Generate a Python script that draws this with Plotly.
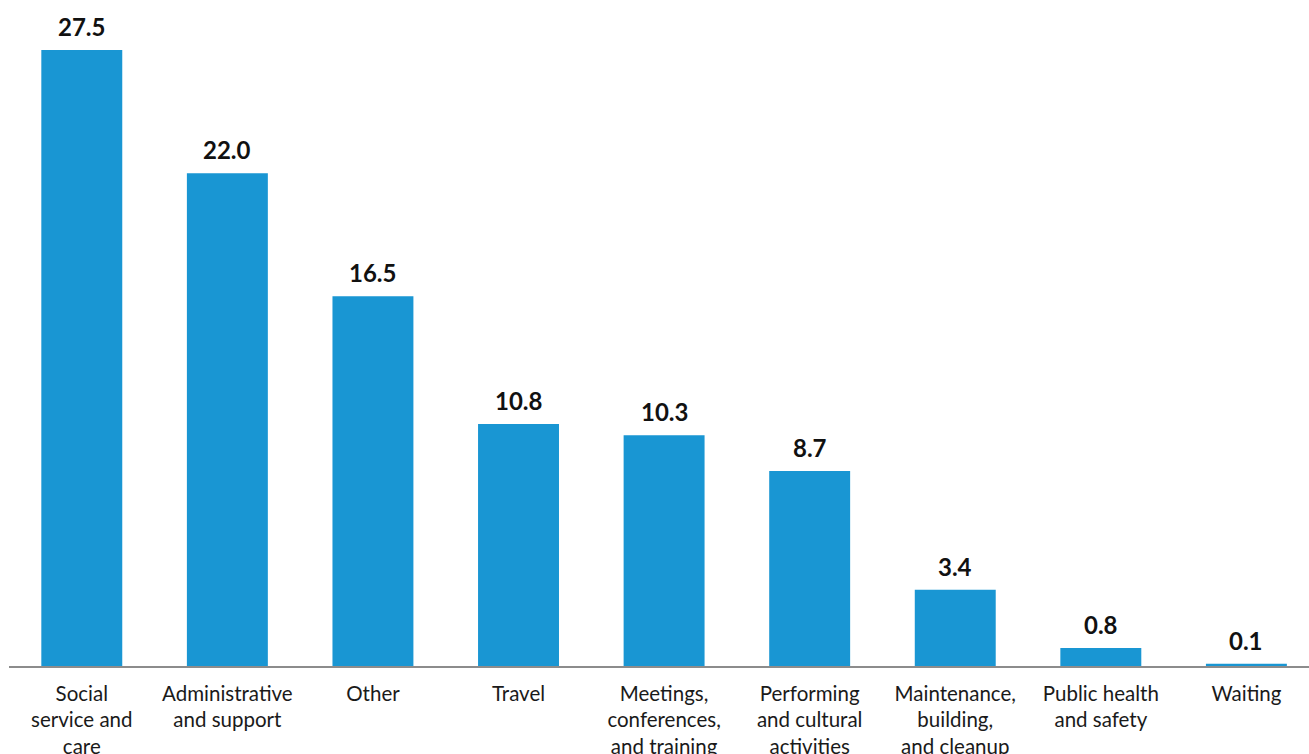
import plotly.graph_objects as go

categories = [
    "Social<br>service and<br>care",
    "Administrative<br>and support",
    "Other",
    "Travel",
    "Meetings,<br>conferences,<br>and training",
    "Performing<br>and cultural<br>activities",
    "Maintenance,<br>building,<br>and cleanup",
    "Public health<br>and safety",
    "Waiting",
]
values = [27.5, 22.0, 16.5, 10.8, 10.3, 8.7, 3.4, 0.8, 0.1]
value_labels = ["27.5", "22.0", "16.5", "10.8", "10.3", "8.7", "3.4", "0.8", "0.1"]

BAR_COLOR = "#1996d3"

fig = go.Figure(
    go.Bar(
        x=list(range(len(categories))),
        y=values,
        marker=dict(color=BAR_COLOR, line=dict(width=0)),
        hoverinfo="skip",
    )
)

for i, (v, t) in enumerate(zip(values, value_labels)):
    fig.add_annotation(
        x=i, y=v, text=f"<b>{t}</b>", showarrow=False,
        yanchor="bottom", yshift=7,
        font=dict(family="Lato", size=24, color="#111111"),
    )

fig.update_layout(
    width=1309, height=754,
    margin=dict(l=9, r=0, t=0, b=88),
    plot_bgcolor="white", paper_bgcolor="white",
    bargap=0.444,
    showlegend=False,
    font=dict(family="Lato", size=21, color="#1a1a1a"),
)
fig.update_xaxes(
    tickmode="array",
    tickvals=list(range(len(categories))),
    ticktext=categories,
    range=[-0.5, 8.43],
    automargin=False,
    showline=True, linecolor="#8c8c8c", linewidth=2,
    showgrid=False, zeroline=False,
    ticks="outside", ticklen=8, tickcolor="rgba(0,0,0,0)",
    tickfont=dict(family="Lato", size=20.5, color="#1a1a1a"),
    tickangle=0,
)
fig.update_yaxes(
    range=[0, 29.73], visible=False, showgrid=False, zeroline=False,
    automargin=False,
)

fig.write_html("out.html")
